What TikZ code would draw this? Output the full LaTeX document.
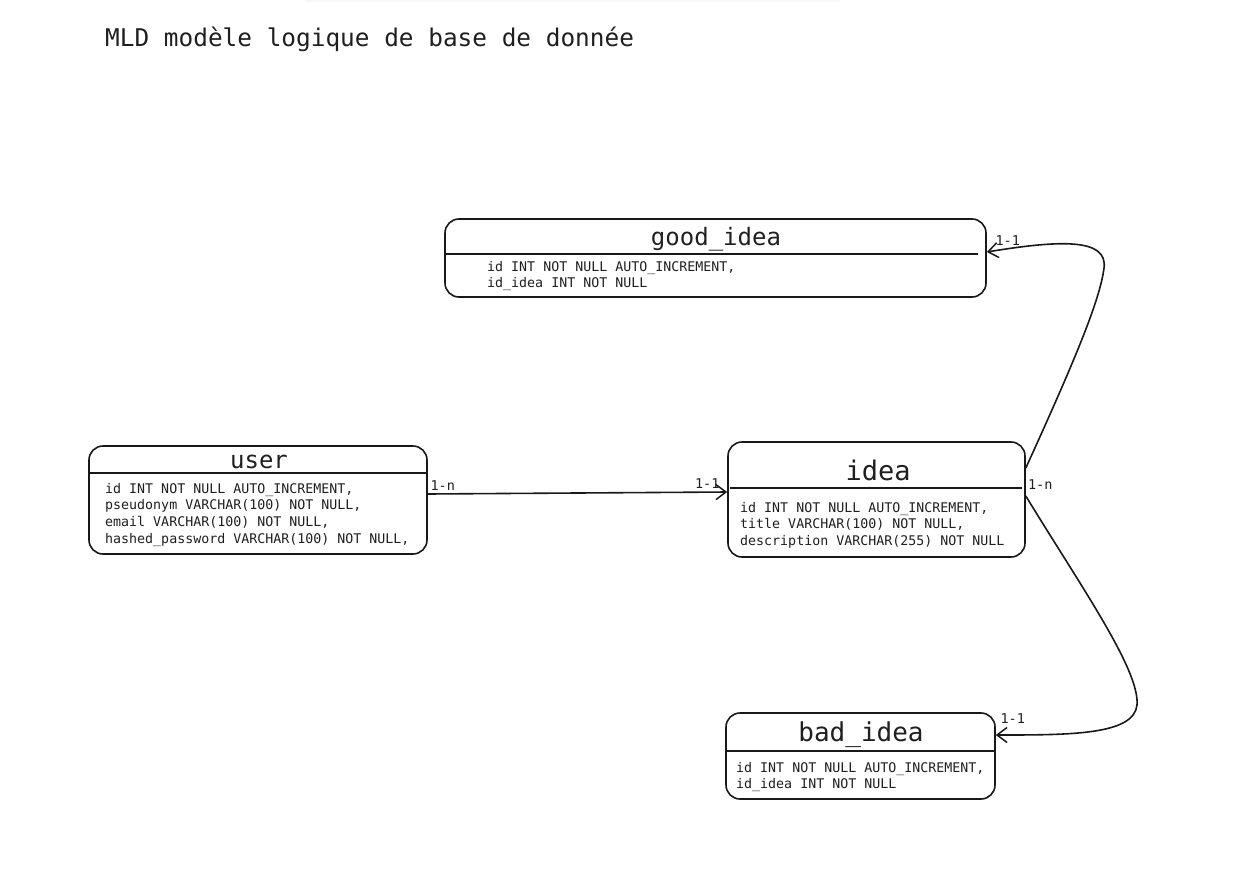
\documentclass[tikz,border=0pt]{standalone}
\usepackage{fontspec}
\setmonofont{DejaVu Sans Mono}
\usetikzlibrary{arrows.meta}
\tikzset{
  tablebox/.style={draw=black!90, line width=1.6pt, rounded corners=14pt, inner sep=0pt},
  tabletitle/.style={font=\ttfamily\fontsize{#1}{#1}\selectfont, text=black!88, inner sep=0pt},
  fields/.style={font=\ttfamily\fontsize{13.3}{16.6}\selectfont, text=black!88, align=left, anchor=north west, inner sep=0pt},
  sepline/.style={line width=2pt, draw=black!90},
  card/.style={font=\ttfamily\fontsize{13.5}{13.5}\selectfont, text=black!88, inner sep=2pt},
  rel/.style={line width=1.6pt, draw=black!90, -{Straight Barb[length=10pt,width=15pt,line width=1.5pt]}}
}
\begin{document}
\begin{tikzpicture}[x=1pt, y=-1pt]
    \useasboundingbox (0,0) rectangle (1255,872);
    \fill[black!3] (305,-6) rectangle (840,2);
    \node[font=\ttfamily\fontsize{24.4}{24.4}\selectfont, text=black!88, anchor=base west, inner sep=0pt] (mld) at (105,47) {MLD modèle logique de base de donnée};

    % tables
    \node[tablebox, minimum width=541pt, minimum height=78pt] (good) at (715.5,258) {};
    \node[tabletitle=24] (goodtitle) at (716,239) {good\_idea};
    \draw[sepline] (445,254) -- (978,254);
    \node[fields] (goodfields) at (487,261) {id INT NOT NULL AUTO\_INCREMENT,\\id\_idea INT NOT NULL};

    \node[tablebox, minimum width=338pt, minimum height=108pt] (user) at (258,500) {};
    \node[tabletitle=24] (usertitle) at (259,462) {user};
    \draw[sepline] (89,473) -- (427,473);
    \node[fields] (userfields) at (105,483) {id INT NOT NULL AUTO\_INCREMENT,\\pseudonym VARCHAR(100) NOT NULL,\\email VARCHAR(100) NOT NULL,\\hashed\_password VARCHAR(100) NOT NULL,};

    \node[tablebox, minimum width=297pt, minimum height=115pt] (idea) at (876.5,499.5) {};
    \node[tabletitle=27] (ideatitle) at (878,470) {idea};
    \draw[sepline] (730,488) -- (1022,488);
    \node[fields] (ideafields) at (740,502) {id INT NOT NULL AUTO\_INCREMENT,\\title VARCHAR(100) NOT NULL,\\description VARCHAR(255) NOT NULL};

    \node[tablebox, minimum width=269pt, minimum height=86pt] (bad) at (860.5,756) {};
    \node[tabletitle=26] (badtitle) at (861,735) {bad\_idea};
    \draw[sepline] (726,751) -- (995,751);
    \node[fields] (badfields) at (736,762) {id INT NOT NULL AUTO\_INCREMENT,\\id\_idea INT NOT NULL};

    % relations
    \draw[rel] ([yshift=6pt]user.east) -- node[card, at start, anchor=south west, yshift=1pt] {1-n} node[card, at end, anchor=south east, xshift=-5pt, yshift=1pt] {1-1} ([yshift=7.5pt]idea.west);
    \node[card, anchor=west] (idea1n) at ([yshift=15pt]idea.east) {1-n};
    \draw[rel] ([yshift=31.5pt]idea.east) .. controls (1075,360) and (1100,300) .. (1104,268) .. controls (1108,238) and (1060,240) .. ([yshift=6pt]good.east) node[card, anchor=south west, xshift=6pt, yshift=4pt] {1-1};
    \draw[rel] ([yshift=3.5pt]idea.east) .. controls (1080,585) and (1140,670) .. (1137,705) .. controls (1134,735) and (1070,735) .. ([yshift=21pt]bad.east) node[card, anchor=south west, xshift=2pt, yshift=9pt] {1-1};
\end{tikzpicture}
\end{document}
